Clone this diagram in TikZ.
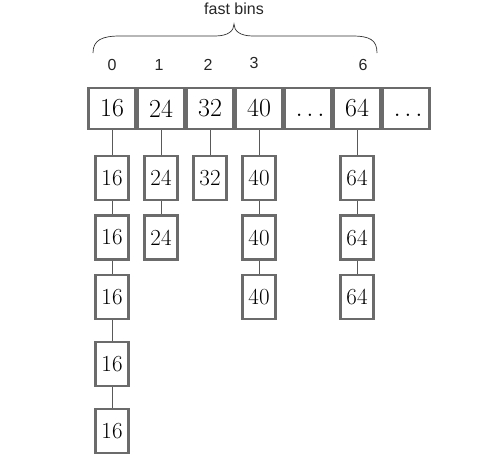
\documentclass[tikz,border=0pt]{standalone}
\usepackage{fontspec}
\newfontfamily\labelfont{Liberation Sans}
\begin{document}
\begin{tikzpicture}[x=1pt, y=-1pt,
        bin/.style={draw=black!58, line width=2.2pt, minimum width=47pt, minimum height=41pt, inner sep=0pt, font=\fontsize{26}{26}\selectfont},
        chunk/.style={draw=black!58, line width=2.2pt, minimum width=33pt, minimum height=44pt, inner sep=0pt, font=\fontsize{23}{23}\selectfont},
        link/.style={draw=black!65, line width=0.8pt},
        idx/.style={font=\labelfont\fontsize{16}{16}\selectfont, text=black!85, inner sep=0pt}]
            \useasboundingbox (0, 0) rectangle (493, 455);
            \node[idx] (title) at (234, 9) {fast bins};
            \draw[black!80, line width=0.7pt] (93, 53) .. controls (93, 40) and (102, 36) .. (120, 36) -- (215, 36) .. controls (228, 36) and (234, 31) .. (234, 24) .. controls (234, 31) and (240, 36) .. (253, 36) -- (352, 36) .. controls (370, 36) and (377, 40) .. (377, 53);
            \node[idx] (i0) at (112, 65) {0};
            \node[idx] (i1) at (159, 65) {1};
            \node[idx] (i2) at (208, 65) {2};
            \node[idx] (i3) at (254, 63) {3};
            \node[idx] (i6) at (363, 65) {6};
            % the bins
            \node[bin] (b0) at (112, 108.5) {16};
            \node[bin] (b1) at (161, 108.5) {24};
            \node[bin] (b2) at (210, 108.5) {32};
            \node[bin] (b3) at (259, 108.5) {40};
            \node[bin] (b4) at (308, 108.5) {$\vphantom{1}\ldots$};
            \node[bin] (b5) at (357, 108.5) {64};
            \node[bin] (b6) at (406, 108.5) {$\vphantom{1}\ldots$};
            % the chunks
            \node[chunk] (c01) at (112, 178) {16};
            \node[chunk] (c02) at (112, 237.5) {16};
            \node[chunk] (c03) at (112, 297) {16};
            \node[chunk] (c04) at (112, 364) {16};
            \node[chunk] (c05) at (112, 431) {16};
            \node[chunk] (c11) at (161, 178) {24};
            \node[chunk] (c12) at (161, 237.5) {24};
            \node[chunk] (c21) at (210, 178) {32};
            \node[chunk] (c31) at (259, 178) {40};
            \node[chunk] (c32) at (259, 237.5) {40};
            \node[chunk] (c33) at (259, 297) {40};
            \node[chunk] (c51) at (357, 178) {64};
            \node[chunk] (c52) at (357, 237.5) {64};
            \node[chunk] (c53) at (357, 297) {64};
            \draw[link] (b0) -- (c01) -- (c02) -- (c03) -- (c04) -- (c05);
            \draw[link] (b1) -- (c11) -- (c12);
            \draw[link] (b2) -- (c21);
            \draw[link] (b3) -- (c31) -- (c32) -- (c33);
            \draw[link] (b5) -- (c51) -- (c52) -- (c53);
        \end{tikzpicture}
\end{document}
